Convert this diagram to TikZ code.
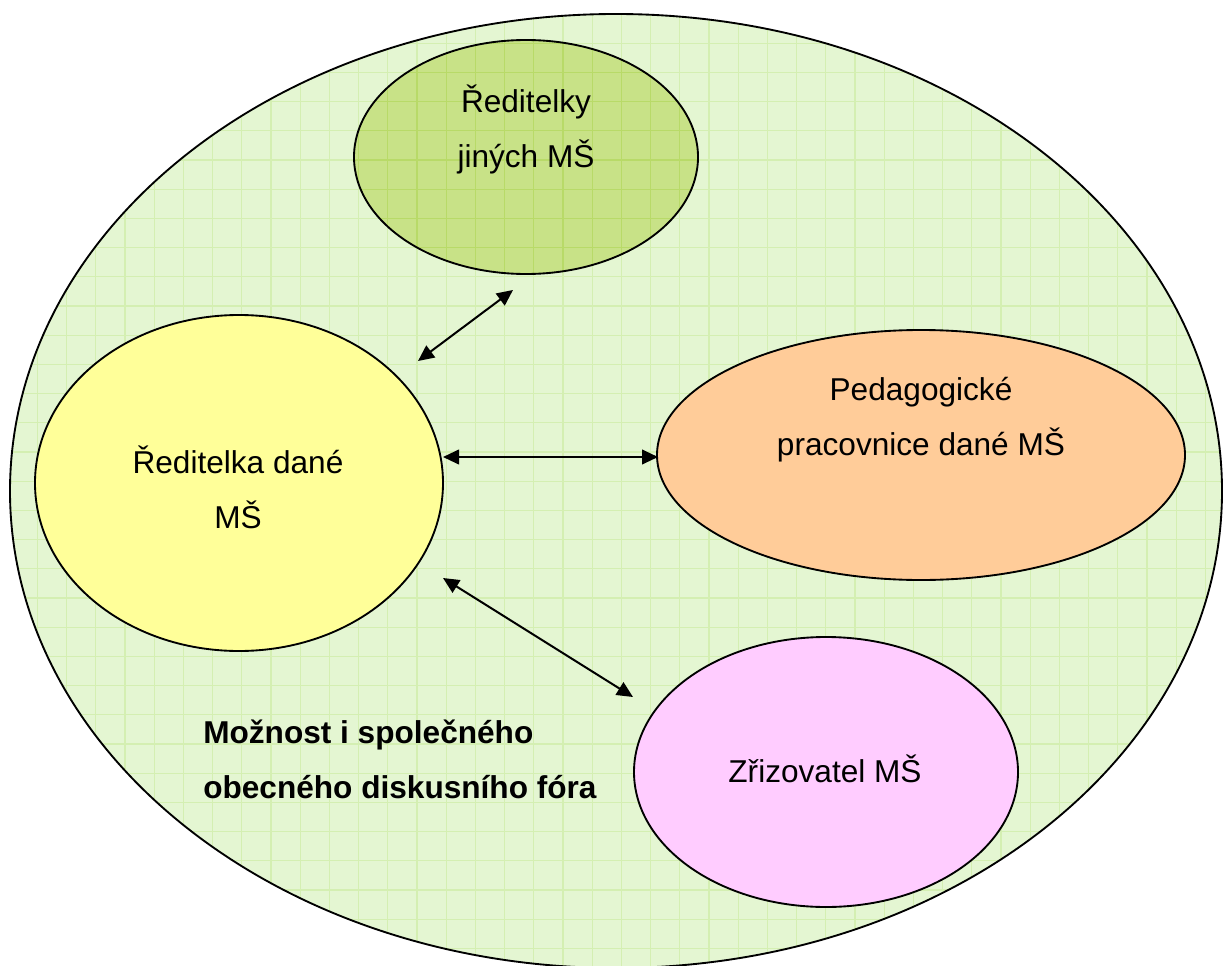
\documentclass[tikz,border=0pt]{standalone}
\usepackage{fontspec}
\setmainfont{Liberation Sans}
\usetikzlibrary{shapes.geometric,arrows.meta}
\definecolor{bgc}{RGB}{228,246,210}
\definecolor{gridc}{RGB}{212,239,178}
\definecolor{topc}{RGB}{200,226,135}
\definecolor{topgrid}{RGB}{184,218,104}
\definecolor{yelc}{RGB}{255,255,153}
\definecolor{orac}{RGB}{255,204,153}
\definecolor{pinc}{RGB}{255,204,255}
\newcommand\mygridlines[1]{%
  \foreach \k in {0,...,42}{\draw[#1] (8.2+29.2*\k,0) -- (8.2+29.2*\k,966);}%
  \foreach \k in {0,...,33}{\draw[#1] (0,14+29.2*\k) -- (1223,14+29.2*\k);}}
\tikzset{
  bubble/.style={ellipse, draw=black, line width=1.4pt, inner sep=0pt},
  lbl/.style={font=\fontsize{23.7pt}{41.25pt}\selectfont, inner sep=0pt, align=center, anchor=base},
  boldlbl/.style={font=\fontsize{23.7pt}{41.25pt}\selectfont\bfseries, inner sep=0pt, align=left, anchor=base west},
  conn/.style={line width=1.5pt, {Triangle[length=12pt,width=11pt]}-{Triangle[length=12pt,width=11pt]}}
}
\begin{document}
\begin{tikzpicture}[x=0.75pt,y=-0.75pt]
\useasboundingbox (0,0) rectangle (1223,966);
\clip (0,0) rectangle (1223,966);
% outer region
\fill[bgc] (616,491) ellipse [x radius=606, y radius=477];
\begin{scope}
  \clip (616,491) ellipse [x radius=606, y radius=477];
  \mygridlines{gridc, line width=0.8pt}
\end{scope}
\node[bubble, minimum width=909pt, minimum height=715.5pt] (world) at (616,491) {};
% top ellipse
\fill[topc] (526,157) ellipse [x radius=172, y radius=117];
\begin{scope}
  \clip (526,157) ellipse [x radius=172, y radius=117];
  \mygridlines{topgrid, line width=0.8pt}
\end{scope}
\node[bubble, minimum width=258pt, minimum height=175.5pt] (others) at (526,157) {};
% other ellipses
\node[bubble, fill=yelc, minimum width=306pt, minimum height=252pt] (head) at (239,483) {};
\node[bubble, fill=orac, minimum width=396pt, minimum height=187.5pt] (staff) at (921,455) {};
\node[bubble, fill=pinc, minimum width=288pt, minimum height=202.5pt] (founder) at (826,772) {};
% labels (anchor = baseline of the last line)
\node[lbl] (othersT) at (526,168) {Ředitelky\\jiných MŠ};
\node[lbl] (headT) at (238,528) {Ředitelka dané\\MŠ};
\node[lbl] (staffT) at (921,455) {Pedagogické\\pracovnice dané MŠ};
\node[lbl] (founderT) at (825,782) {Zřizovatel MŠ};
\node[boldlbl] (forum) at (203,798) {Možnost i společného\\obecného diskusního fóra};
% connectors
\coordinate (a1s) at (418,361);
\coordinate (a1e) at (513,290);
\coordinate (a2s) at (443,457);
\coordinate (a2e) at (658,457);
\coordinate (a3s) at (443,578);
\coordinate (a3e) at (633,697);
\draw[conn] (a1s) -- (a1e);
\draw[conn] (a2s) -- (a2e);
\draw[conn] (a3s) -- (a3e);
\end{tikzpicture}
\end{document}
